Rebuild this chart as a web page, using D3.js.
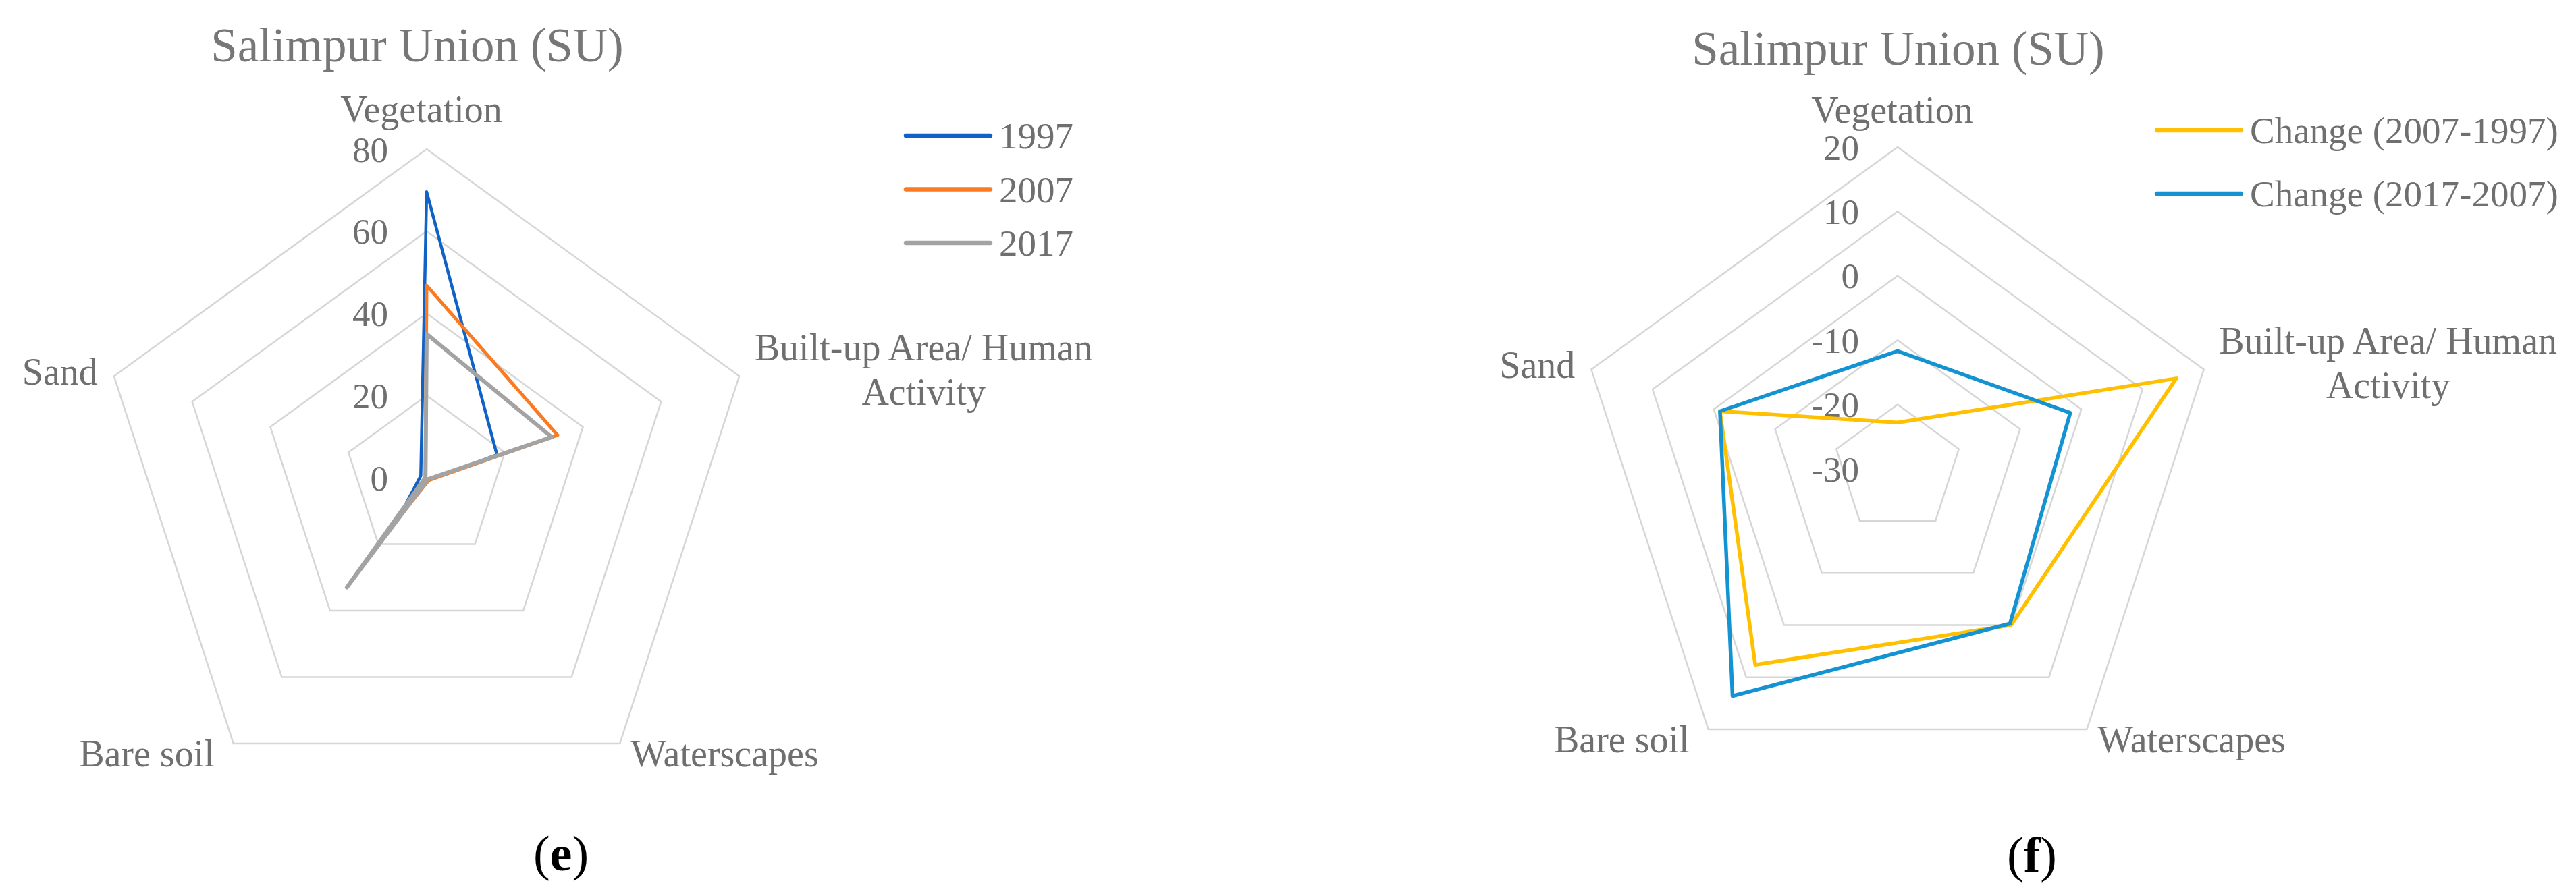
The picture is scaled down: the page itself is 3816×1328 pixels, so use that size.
<!DOCTYPE html>
<html>
<head>
<meta charset="utf-8">
<script src="https://cdn.jsdelivr.net/npm/d3@7"></script>
<style>
  html, body { margin: 0; padding: 0; background: #fff; }
  svg { display: block; }
  text { font-family: "Liberation Serif", "Times New Roman", serif; }
</style>
</head>
<body>
<svg id="chart" width="3816" height="1328"></svg>
<script>
// ---------------- DATA ----------------
const categories = ["Vegetation", "Built-up Area/ Human Activity", "Waterscapes", "Bare soil", "Sand"];

// Panel (e): land cover share (%)
const seriesE = ["1997", "2007", "2017"];
const values1997 = [69.6, 18, 0.8, 10.5, 1.5];
const values2007 = [46.8, 33.5, 0.8, 18.5, 0.3];
const values2017 = [35, 32, 0.5, 33, 0.3];
const ticksE = [0, 20, 40, 60, 80];

// Panel (f): change between periods
const seriesF = ["Change (2007-1997)", "Change (2017-2007)"];
const change0797 = [-22.8, 15.5, 0, 7.6, -1];
const change1707 = [-11.7, -1.8, -0.3, 13.6, -1];
const ticksF = [-30, -20, -10, 0, 10, 20];

const title = "Salimpur Union (SU)";

// ---------------- DRAW ----------------
const svg = d3.select("#chart");
const labelColor = "#6f6f6f";
const gridColor = "#d6d6d6";

function radar(cfg) {
  const g = svg.append("g").attr("transform", `translate(${cfg.cx},${cfg.cy})`);
  const n = categories.length;
  const angle = i => (i * 2 * Math.PI) / n;
  const r = d3.scaleLinear().domain([cfg.ticks[0], cfg.ticks[cfg.ticks.length - 1]]).range([0, cfg.R]);
  const pt = (i, rad) => [rad * Math.sin(angle(i)), -rad * Math.cos(angle(i))];

  // grid rings
  const ringLine = d3.line().curve(d3.curveLinearClosed);
  cfg.ticks.slice(1).forEach(t => {
    g.append("path")
      .attr("d", ringLine(d3.range(n).map(i => pt(i, r(t)))))
      .attr("fill", "none")
      .attr("stroke", gridColor)
      .attr("stroke-width", 2.5);
  });

  // tick labels
  cfg.ticks.forEach(t => {
    g.append("text")
      .attr("x", -57)
      .attr("y", -r(t))
      .attr("dy", "0.35em")
      .attr("text-anchor", "end")
      .attr("font-size", 53)
      .attr("fill", labelColor)
      .text(t);
  });

  // series
  const lineR = d3.lineRadial()
    .angle((d, i) => angle(i))
    .radius(d => r(d))
    .curve(d3.curveLinearClosed);
  cfg.series.forEach(s => {
    g.append("path")
      .attr("d", lineR(s.values))
      .attr("fill", "none")
      .attr("stroke", s.color)
      .attr("stroke-width", s.width)
      .attr("stroke-linejoin", "round");
  });

  // category labels
  const R = cfg.R;
  const v = i => pt(i, R);
  const lab = (x, y, anchor, txt) => g.append("text")
    .attr("x", x).attr("y", y).attr("text-anchor", anchor)
    .attr("font-size", 56).attr("fill", labelColor).text(txt);
  lab(v(0)[0] - 8, v(0)[1] - cfg.vegGap, "middle", categories[0]);
  lab(v(1)[0] + 273, v(1)[1] - 24, "middle", "Built-up Area/ Human");
  lab(v(1)[0] + 273, v(1)[1] + 42, "middle", "Activity");
  lab(v(2)[0] + 16, v(2)[1] + 34, "start", categories[2]);
  lab(v(3)[0] - 28, v(3)[1] + 34, "end", categories[3]);
  lab(v(4)[0] - 24, v(4)[1] + 12, "end", categories[4]);

  // title
  svg.append("text")
    .attr("x", cfg.titleX).attr("y", cfg.titleY)
    .attr("text-anchor", "middle")
    .attr("font-size", 71).attr("fill", "#777")
    .text(title);

  // legend
  const lg = svg.append("g");
  cfg.series.forEach((s, k) => {
    const y = cfg.legY + k * cfg.legStep;
    lg.append("line")
      .attr("x1", cfg.legX).attr("x2", cfg.legX + 125)
      .attr("y1", y).attr("y2", y)
      .attr("stroke", s.color).attr("stroke-width", 6.5)
      .attr("stroke-linecap", "round");
    lg.append("text")
      .attr("x", cfg.legX + 138).attr("y", y).attr("dy", "0.35em")
      .attr("font-size", 55).attr("fill", labelColor)
      .text(s.name);
  });

  // panel letter
  const pl = svg.append("text")
    .attr("x", cfg.letterX).attr("y", cfg.letterY)
    .attr("text-anchor", "middle")
    .attr("font-size", 74).attr("fill", "#000");
  pl.append("tspan").text("(");
  pl.append("tspan").attr("font-weight", "bold").text(cfg.letter);
  pl.append("tspan").text(")");
}

radar({
  cx: 632, cy: 708, R: 487, ticks: ticksE, vegGap: 40,
  series: [
    { name: seriesE[0], values: values1997, color: "#1062c6", width: 4.5 },
    { name: seriesE[1], values: values2007, color: "#fb7a21", width: 5 },
    { name: seriesE[2], values: values2017, color: "#a3a3a3", width: 6 }
  ],
  titleX: 618, titleY: 91,
  legX: 1342, legY: 201, legStep: 79.5,
  letter: "e", letterX: 831, letterY: 1290
});

radar({
  cx: 2811, cy: 695, R: 477, ticks: ticksF, vegGap: 36,
  series: [
    { name: seriesF[0], values: change0797, color: "#ffc000", width: 5.5 },
    { name: seriesF[1], values: change1707, color: "#1493d3", width: 5.5 }
  ],
  titleX: 2812, titleY: 96,
  legX: 3195, legY: 193, legStep: 94,
  letter: "f", letterX: 3010, letterY: 1292
});
</script>
</body>
</html>
